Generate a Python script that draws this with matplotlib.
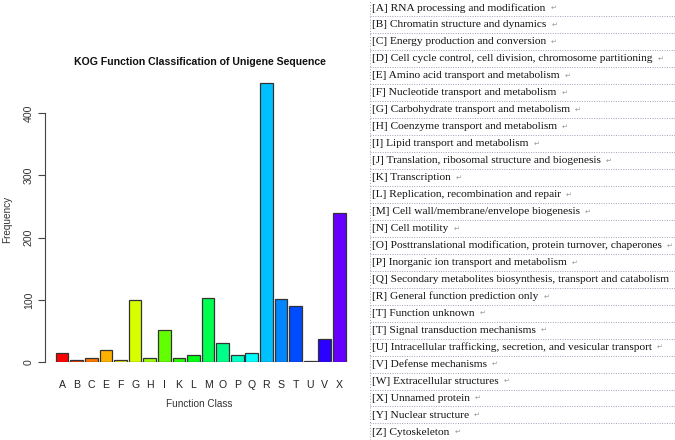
import matplotlib
matplotlib.use("Agg")
import matplotlib.pyplot as plt
import numpy as np

# bar chart data
classes = ['A', 'B', 'C', 'E', 'F', 'G', 'H', 'I', 'K', 'L',
           'M', 'O', 'P', 'Q', 'R', 'S', 'T', 'U', 'V', 'X']
freq = [14, 3, 6, 20, 3, 99, 7, 51, 6, 11,
        103, 30, 12, 14, 448, 102, 90, 2, 37, 240]
bar_colors = ['#FF0000', '#FF3B00', '#FF7600', '#FFB100', '#FFEC00',
              '#D8FF00', '#9DFF00', '#62FF00', '#27FF00', '#00FF14',
              '#00FF4F', '#00FF8A', '#00FFC5', '#00FCFF', '#00C1FF',
              '#0086FF', '#004BFF', '#0010FF', '#2A00FF', '#6500FF']
yticks = [0, 100, 200, 300, 400]

# legend table text
kog_labels = [
    '[A] RNA processing and modification',
    '[B] Chromatin structure and dynamics',
    '[C] Energy production and conversion',
    '[D] Cell cycle control, cell division, chromosome partitioning',
    '[E] Amino acid transport and metabolism',
    '[F] Nucleotide transport and metabolism',
    '[G] Carbohydrate transport and metabolism',
    '[H] Coenzyme transport and metabolism',
    '[I] Lipid transport and metabolism',
    '[J] Translation, ribosomal structure and biogenesis',
    '[K] Transcription',
    '[L] Replication, recombination and repair',
    '[M] Cell wall/membrane/envelope biogenesis',
    '[N] Cell motility',
    '[O] Posttranslational modification, protein turnover, chaperones',
    '[P] Inorganic ion transport and metabolism',
    '[Q] Secondary metabolites biosynthesis, transport and catabolism',
    '[R] General function prediction only',
    '[T] Function unknown',
    '[T] Signal transduction mechanisms',
    '[U] Intracellular trafficking, secretion, and vesicular transport',
    '[V] Defense mechanisms',
    '[W] Extracellular structures',
    '[X] Unnamed protein',
    '[Y] Nuclear structure',
    '[Z] Cytoskeleton',
]

W, H = 675, 440
fig = plt.figure(figsize=(W / 100, H / 100), dpi=100)
plt.rcParams['font.family'] = ['Liberation Sans', 'DejaVu Sans']

# ---- bar chart ----
ax = fig.add_axes([45 / W, (H - 362) / H, 315 / W, 286 / H])
x = np.arange(len(classes))
ax.bar(x, freq, width=0.87, color=bar_colors, edgecolor='#333333', linewidth=0.9)
ax.set_xlim(-1.17, 20.41)
ax.set_ylim(0, 460)
for s in ['top', 'right', 'bottom']:
    ax.spines[s].set_visible(False)
ax.spines['left'].set_bounds(0, 400)
ax.spines['left'].set_color('#444444')
ax.set_yticks(yticks)
ax.set_yticklabels([str(v) for v in yticks], rotation=90, va='center',
                   fontsize=7.6, color='#333333')
ax.tick_params(axis='y', length=5, width=0.8, color='#444444', pad=3)
ax.set_xticks(x)
ax.set_xticklabels(classes, fontsize=7.6, color='#222222')
ax.tick_params(axis='x', length=0, pad=13)
ax.set_ylabel('Frequency', fontsize=7.2, color='#333333')
ax.yaxis.set_label_coords(-33 / 315, 0.5)
ax.set_xlabel('Function Class', fontsize=7.2, color='#333333')
ax.xaxis.set_label_coords(0.49, -(399 - 362) / 286)
fig.text(200 / W, 1 - 62 / H, 'KOG Function Classification of Unigene Sequence',
         ha='center', va='center', fontsize=7.6, fontweight='bold', color='#111111')

# ---- legend table ----
x0 = 370
row0, pitch = 8.0, 16.96
fig.add_artist(plt.Line2D([x0 / W, x0 / W], [0, 1], transform=fig.transFigure,
                          color='#9aa3b5', linewidth=0.7, linestyle=(0, (1, 2))))
renderer = fig.canvas.get_renderer()
for i, lab in enumerate(kog_labels):
    yc = row0 + i * pitch
    t = fig.text((x0 + 2) / W, 1 - yc / H, lab, ha='left', va='center',
                 fontsize=8.2, family=['Liberation Serif', 'DejaVu Serif'],
                 color='#111111')
    bb = t.get_window_extent(renderer=renderer)
    # paragraph mark, only where it fits (the long [Q] row runs to the edge)
    if bb.x1 + 12 < W:
        fig.text((bb.x1 + 5) / W, 1 - yc / H, '\u21b5', ha='left', va='center',
                 fontsize=5, family=['DejaVu Sans'], color='#999999')
    yl = yc + 8.4
    fig.add_artist(plt.Line2D([x0 / W, 1], [1 - yl / H, 1 - yl / H],
                              transform=fig.transFigure, color='#9aa3b5',
                              linewidth=0.7, linestyle=(0, (1, 1.5))))

fig.savefig('out.png', dpi=100)
